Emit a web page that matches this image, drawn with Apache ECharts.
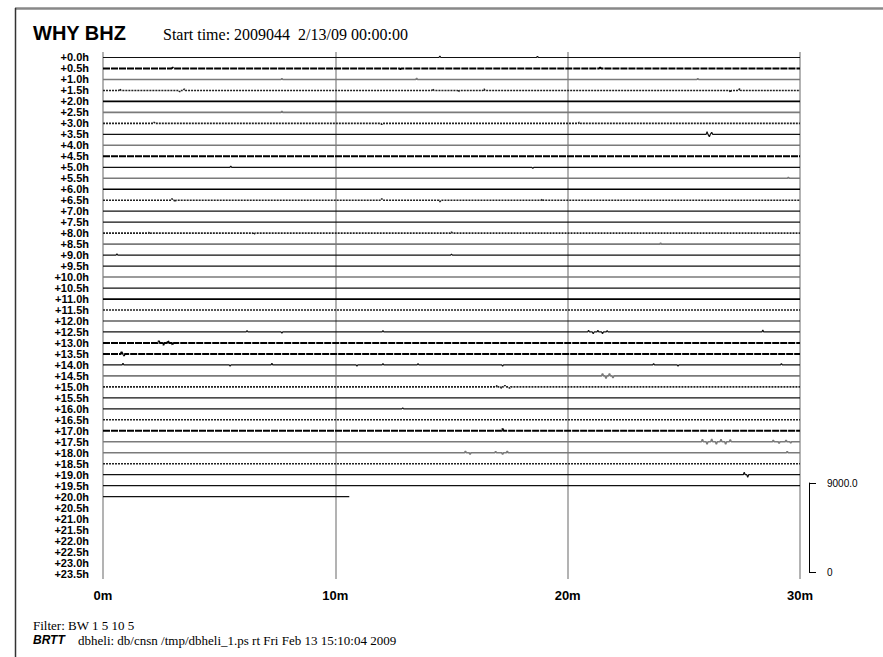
<!DOCTYPE html>
<html>
<head>
<meta charset="utf-8">
<script src="https://cdn.jsdelivr.net/npm/echarts@6/dist/echarts.min.js"></script>
<style>html,body{margin:0;padding:0;background:#fff;}#c{width:883px;height:657px;}</style>
</head>
<body>
<div id="c"></div>
<script>
// ---- data ----
const stationTitle = 'WHY BHZ';
const startText = 'Start time: 2009044  2/13/09 00:00:00';
const filterText = 'Filter: BW 1 5 10 5';
const footerTag = 'BRTT';
const footerText = 'dbheli: db/cnsn /tmp/dbheli_1.ps rt Fri Feb 13 15:10:04 2009';
const hourLabels = ['+0.0h','+0.5h','+1.0h','+1.5h','+2.0h','+2.5h','+3.0h','+3.5h','+4.0h','+4.5h',
  '+5.0h','+5.5h','+6.0h','+6.5h','+7.0h','+7.5h','+8.0h','+8.5h','+9.0h','+9.5h',
  '+10.0h','+10.5h','+11.0h','+11.5h','+12.0h','+12.5h','+13.0h','+13.5h','+14.0h','+14.5h',
  '+15.0h','+15.5h','+16.0h','+16.5h','+17.0h','+17.5h','+18.0h','+18.5h','+19.0h','+19.5h',
  '+20.0h','+20.5h','+21.0h','+21.5h','+22.0h','+22.5h','+23.0h','+23.5h'];
const minuteTicks = [0, 10, 20, 30];
const rowCounts = 1110;          // counts per helicorder row spacing
const scaleCounts = [0, 9000];   // scale bar
const lastRowEndMin = 10.6;      // the +20.0h row stops here
// spikes per row: [minute, amplitude in counts]
const traceSpikes = [
  [[14.5,150],[18.7,120]],                                   // +0.0h
  [[3.0,100],[12.8,-100],[21.4,100]],                        // +0.5h
  [[7.7,100],[13.5,120],[25.6,100]],                         // +1.0h
  [[0.73,150],[3.3,-150],[3.5,150],[14.2,150],[15.3,-150],[16.4,150],[27.0,-180],[27.4,180]], // +1.5h
  [],                                                        // +2.0h
  [[7.7,100]],                                               // +2.5h
  [[2.2,120],[12.0,-100],[20.5,120]],                        // +3.0h
  [[26.0,280],[26.1,-250],[26.2,200]],                       // +3.5h
  [],                                                        // +4.0h
  [],                                                        // +4.5h
  [[5.5,120],[18.5,-120]],                                   // +5.0h
  [[29.5,100]],                                              // +5.5h
  [],                                                        // +6.0h
  [[2.97,150],[3.1,-150],[12.0,150],[14.5,-150],[18.9,120]], // +6.5h
  [],                                                        // +7.0h
  [],                                                        // +7.5h
  [[2.0,120],[6.5,-120],[15.0,120]],                         // +8.0h
  [[24.0,100]],                                              // +8.5h
  [[0.6,120],[15.0,100]],                                    // +9.0h
  [],                                                        // +9.5h
  [],                                                        // +10.0h
  [],                                                        // +10.5h
  [],                                                        // +11.0h
  [],                                                        // +11.5h
  [],                                                        // +12.0h
  [[6.2,150],[7.7,-120],[12.05,150],[20.9,180],[21.1,-180],[21.3,180],[21.5,-180],[21.7,150],[28.4,200]], // +12.5h
  [[2.4,200],[2.6,-220],[2.8,220],[3.0,-200]],               // +13.0h
  [[0.8,220],[0.9,-180]],                                    // +13.5h
  [[0.86,150],[5.47,-130],[7.27,150],[10.93,-120],[12.05,130],[13.56,120],[17.2,-120],[23.7,130],[24.75,-120],[29.2,130]], // +14.0h
  [[21.5,250],[21.65,-250],[21.8,250],[21.95,-200]],         // +14.5h
  [[16.96,150],[17.15,-150],[17.3,150],[17.5,-150]],         // +15.0h
  [],                                                        // +15.5h
  [[12.9,100]],                                              // +16.0h
  [],                                                        // +16.5h
  [[17.2,220]],                                              // +17.0h
  [[25.8,250],[26.0,-250],[26.2,280],[26.4,-250],[26.6,260],[26.8,-250],[27.0,220],[28.85,150],[29.1,-150],[29.4,150],[29.6,-120]], // +17.5h
  [[15.6,150],[15.8,-150],[16.9,130],[17.2,-150],[17.4,160],[29.45,130]], // +18.0h
  [],                                                        // +18.5h
  [[27.6,250],[27.75,-250]],                                 // +19.0h
  [],                                                        // +19.5h
  []                                                         // +20.0h
];

// ---- styles (kept apart from data) ----
const rowTone = ['k','n','g','d','K','g','d','k','g','n',
  'k','g','K','d','k','k','d','g','k','k',
  'g','k','K','d','k','k','n','n','k','g',
  'd','k','k','d','n','g','g','d','k','k','k'];
const toneStyle = {
  k: {color:'#111', width:1.2},
  K: {color:'#000', width:1.7},
  g: {color:'#7a7a7a', width:1.6},
  d: {color:'#222', width:1.6, type:[2,1]},
  n: {color:'#000', width:1.9, type:[7,1]}
};
const SPIKE_HALF = 0.04;

const series = traceSpikes.map((spikes, i) => {
  const base = -i * rowCounts;
  const end = (i === traceSpikes.length - 1) ? lastRowEndMin : minuteTicks[minuteTicks.length - 1];
  const pts = [[0, base]];
  spikes.slice().sort((a,b)=>a[0]-b[0]).forEach(([m, a]) => {
    pts.push([m - SPIKE_HALF, base], [m, base + a], [m + SPIKE_HALF, base]);
  });
  pts.push([end, base]);
  return {
    type:'line', xAxisIndex:0, yAxisIndex:1, data:pts, showSymbol:false, symbol:'none',
    silent:true, animation:false, lineStyle:Object.assign({}, toneStyle[rowTone[i]])
  };
});
series.push({type:'line', xAxisIndex:1, yAxisIndex:2, data:[], silent:true});

const chart = echarts.init(document.getElementById('c'), null, {renderer:'svg'});
const sans = 'Liberation Sans, Arial, Helvetica, sans-serif';
const serif = 'Liberation Serif, Times New Roman, serif';
chart.setOption({
  animation:false,
  backgroundColor:'#fff',
  grid:[
    {left:103, width:697, top:52, height:527},
    {left:809, width:7, top:483, height:89}
  ],
  xAxis:[
    {gridIndex:0, type:'value', min:minuteTicks[0], max:minuteTicks[minuteTicks.length-1], interval:10,
     axisLine:{show:false}, axisTick:{show:false},
     axisLabel:{formatter:v=>v+'m', fontFamily:sans, fontWeight:'bold', fontSize:13, color:'#000', margin:10},
     splitLine:{show:true, lineStyle:{color:'#9a9a9a', width:1.5}}},
    {gridIndex:1, type:'value', show:false, min:0, max:1}
  ],
  yAxis:[
    {gridIndex:0, type:'category', data:hourLabels, inverse:true, boundaryGap:true,
     axisLine:{show:false}, axisTick:{show:false}, splitLine:{show:false},
     axisLabel:{interval:0, fontFamily:sans, fontWeight:'bold', fontSize:11, color:'#000', margin:14, lineHeight:10}},
    {gridIndex:0, type:'value', min:-47.5*rowCounts, max:0.5*rowCounts, show:false},
    {gridIndex:1, type:'value', position:'left', min:scaleCounts[0], max:scaleCounts[1], interval:9000,
     axisLine:{show:true, lineStyle:{color:'#000', width:1}},
     axisTick:{show:true, inside:true, length:7, lineStyle:{color:'#000', width:1}},
     splitLine:{show:false},
     axisLabel:{inside:true, formatter:v=>v===0?'0':v.toFixed(1), fontFamily:sans, fontSize:10, color:'#000', margin:18}}
  ],
  graphic:[
    {type:'line', shape:{x1:15, y1:8.5, x2:883, y2:8.5}, style:{stroke:'#888', lineWidth:2.5}, silent:true},
    {type:'line', shape:{x1:15.5, y1:8, x2:15.5, y2:657}, style:{stroke:'#333', lineWidth:1.5}, silent:true},
    {type:'text', left:33, top:23, style:{text:stationTitle, font:'bold 20px '+sans, fill:'#000'}},
    {type:'text', left:163, top:26, style:{text:startText, font:'16px '+serif, fill:'#000'}},
    {type:'text', left:33, top:619, style:{text:filterText, font:'13px '+serif, fill:'#000'}},
    {type:'text', left:33, top:634, style:{text:footerTag, font:'italic bold 12px '+sans, fill:'#000'}},
    {type:'text', left:78, top:634, style:{text:footerText, font:'13px '+serif, fill:'#000'}}
  ],
  series:series
});
</script>
</body>
</html>
